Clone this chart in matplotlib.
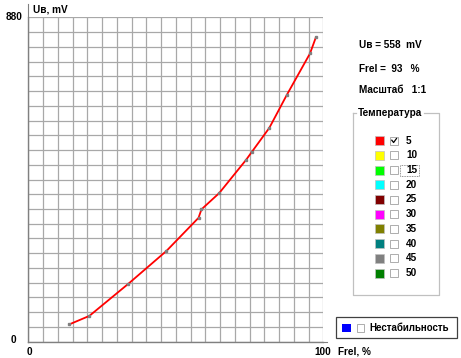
import matplotlib
matplotlib.use('Agg')
import matplotlib.pyplot as plt
from matplotlib.patches import Rectangle

plt.rcParams['font.family'] = ['Liberation Sans', 'DejaVu Sans']

# данные кривой
frel = [13.9, 20.7, 33.9, 46.8, 57.7, 58.7, 64.7, 73.8, 75.7, 81.7, 87.6, 95.5, 97.5]
uv = [47, 70, 157, 246, 336, 359, 403, 493, 514, 580, 669, 782, 826]

temps = [5, 10, 15, 20, 25, 30, 35, 40, 45, 50]
temp_colors = ['#ff0000', '#ffff00', '#00ff00', '#00ffff', '#800000',
               '#ff00ff', '#808000', '#008080', '#808080', '#008000']
checked = [True] + [False] * 9

W, H = 461, 358
fig = plt.figure(figsize=(W / 100, H / 100), dpi=100)
fig.patch.set_facecolor('white')

# основная сетка
ax = fig.add_axes([28.3 / W, (H - 341.7) / H, 295 / W, 324.4 / H])
ax.set_xlim(0, 100)
ax.set_ylim(0, 880)
ax.set_xticks(range(0, 101, 5))
ax.set_yticks(range(0, 881, 40))
ax.grid(True, color='#a8a8a8', lw=0.9)
ax.tick_params(length=0, labelbottom=False, labelleft=False)
for s in ['top', 'right']:
    ax.spines[s].set_visible(False)
for s in ['left', 'bottom']:
    ax.spines[s].set_color('#808080')
    ax.spines[s].set_linewidth(1)
ax.set_axisbelow(True)

ax.plot(frel, uv, color='#ff0000', lw=1.3, zorder=3)
ax.plot(frel, uv, ls='none', marker='s', ms=1.7, color='#808080', mec='#808080', zorder=4)

# слой в пикселях для подписей и панели
ov = fig.add_axes([0, 0, 1, 1])
ov.set_xlim(0, W)
ov.set_ylim(H, 0)
ov.axis('off')
ov.patch.set_alpha(0)

ov.plot([28.3, 28.3], [4, 17.3], color='#808080', lw=0.8)
ov.plot([323.3, 327], [341.7, 341.7], color='#808080', lw=0.8)

fs = 7.2
tk = dict(fontsize=fs, fontweight='bold', color='black')
ov.text(33, 9.5, 'Uв, mV', va='center', ha='left', **tk)
ov.text(22.5, 16.5, '880', va='center', ha='right', **tk)
ov.text(13.3, 340, '0', va='center', ha='center', **tk)
ov.text(29.3, 351.7, '0', va='center', ha='center', **tk)
ov.text(323, 351.7, '100', va='center', ha='center', **tk)
ov.text(337.5, 351.7, 'Frel, %', va='center', ha='left', **tk)

ov.text(359, 45, 'Uв = 558  mV', va='center', ha='left', **tk)
ov.text(359, 69.3, 'Frel =  93   %', va='center', ha='left', **tk)
ov.text(359, 90, 'Масштаб   1:1', va='center', ha='left', **tk)

# рамка "Температура"
gx0, gx1, gy0, gy1 = 352.7, 439, 113.3, 295
ov.plot([gx0, gx0, gx1, gx1, 424], [gy0, gy1, gy1, gy0, gy0], color='#c0c0c0', lw=0.9)
ov.plot([gx0, 356], [gy0, gy0], color='#c0c0c0', lw=0.9)
ov.text(358, gy0, 'Температура', va='center', ha='left', **tk)

for i, (t, c) in enumerate(zip(temps, temp_colors)):
    yc = 140.7 + i * 14.7
    ov.add_patch(Rectangle((375, yc - 4.5), 9, 9, facecolor=c, edgecolor='#c0c0c0', lw=0.5))
    ov.add_patch(Rectangle((390, yc - 4), 8, 8, facecolor='white', edgecolor='#a0a0a0', lw=0.6))
    if checked[i]:
        ov.plot([391.8, 393.6, 396.5], [yc - 0.5, yc + 1.8, yc - 2.2], color='black', lw=0.9)
    ov.text(406, yc, str(t), va='center', ha='left', **tk)
    if t == 15:
        ov.add_patch(Rectangle((399.5, yc - 5.5), 19, 11, facecolor='none',
                               edgecolor='#707070', lw=0.6, ls=(0, (1, 1))))

# кнопка "Нестабильность"
ov.add_patch(Rectangle((336, 316.7), 120.7, 21.6, facecolor='white', edgecolor='#404040', lw=0.9))
ov.add_patch(Rectangle((341.7, 323.5), 9.3, 8.5, facecolor='#0000ff', edgecolor='none'))
ov.add_patch(Rectangle((356.7, 323.5), 7.5, 8, facecolor='white', edgecolor='#a0a0a0', lw=0.6))
ov.text(369.5, 327.7, 'Нестабильность', va='center', ha='left',
        fontsize=7.0, fontweight='bold', color='black')

fig.savefig('out.png', dpi=100)
